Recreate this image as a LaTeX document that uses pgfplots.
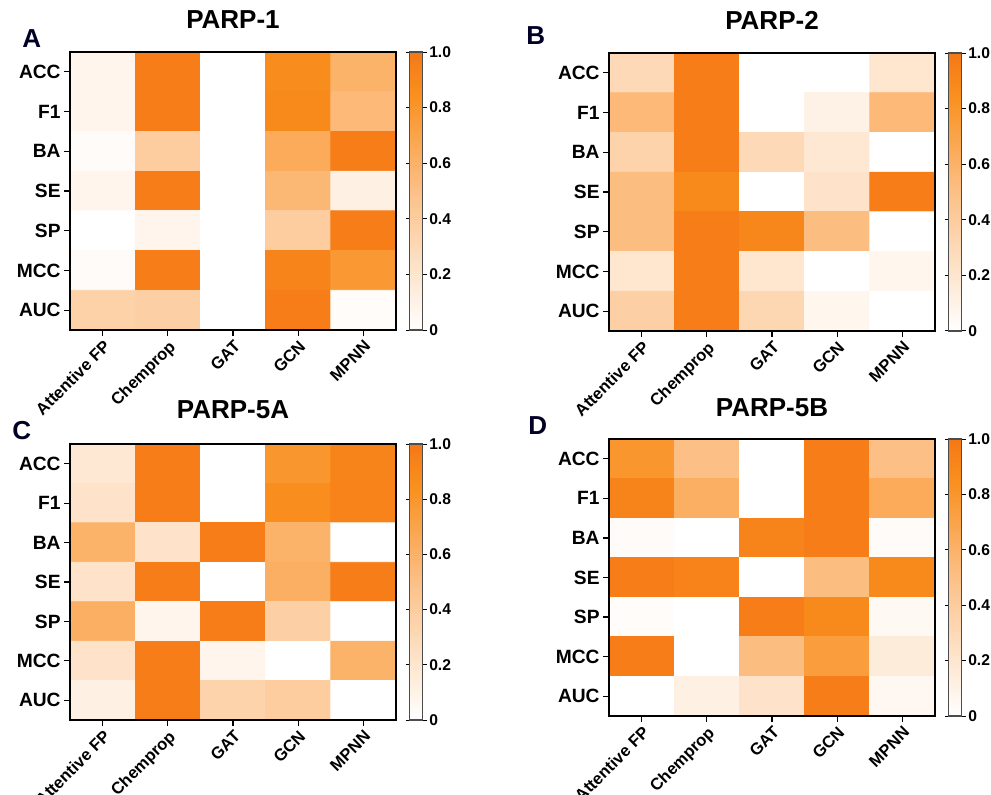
\documentclass[border=0pt]{standalone}
\usepackage{fontspec}
\setmainfont{Liberation Sans}
\usepackage{pgfplots}
\usepackage{pgfplotstable}
\pgfplotsset{compat=1.18}

% rows: ACC F1 BA SE SP MCC AUC (y=0..6), cols: Attentive FP .. MPNN (x=0..4)
\pgfplotstableread{
x y z
0 0 0.08
1 0 0.97
2 0 0
3 0 0.87
4 0 0.60
0 1 0.08
1 1 0.97
2 1 0
3 1 0.88
4 1 0.55
0 2 0.03
1 2 0.40
2 2 0
3 2 0.65
4 2 0.97
0 3 0.08
1 3 0.97
2 3 0
3 3 0.56
4 3 0.12
0 4 0
1 4 0.08
2 4 0
3 4 0.40
4 4 0.97
0 5 0.03
1 5 0.97
2 5 0
3 5 0.92
4 5 0.78
0 6 0.36
1 6 0.38
2 6 0
3 6 0.97
4 6 0.02
}\parpA

\pgfplotstableread{
x y z
0 0 0.30
1 0 0.97
2 0 0
3 0 0
4 0 0.20
0 1 0.55
1 1 0.97
2 1 0
3 1 0.10
4 1 0.55
0 2 0.35
1 2 0.97
2 2 0.30
3 2 0.18
4 2 0
0 3 0.52
1 3 0.88
2 3 0
3 3 0.22
4 3 0.97
0 4 0.52
1 4 0.97
2 4 0.90
3 4 0.52
4 4 0
0 5 0.20
1 5 0.97
2 5 0.20
3 5 0
4 5 0.07
0 6 0.38
1 6 0.97
2 6 0.32
3 6 0.07
4 6 0
}\parpB

\pgfplotstableread{
x y z
0 0 0.18
1 0 0.97
2 0 0
3 0 0.80
4 0 0.92
0 1 0.22
1 1 0.97
2 1 0
3 1 0.86
4 1 0.93
0 2 0.60
1 2 0.22
2 2 0.97
3 2 0.60
4 2 0
0 3 0.22
1 3 0.97
2 3 0
3 3 0.62
4 3 0.97
0 4 0.62
1 4 0.08
2 4 0.97
3 4 0.38
4 4 0
0 5 0.22
1 5 0.97
2 5 0.08
3 5 0
4 5 0.60
0 6 0.12
1 6 0.97
2 6 0.35
3 6 0.40
4 6 0
}\parpC

\pgfplotstableread{
x y z
0 0 0.80
1 0 0.50
2 0 0
3 0 0.97
4 0 0.50
0 1 0.92
1 1 0.62
2 1 0
3 1 0.97
4 1 0.65
0 2 0.03
1 2 0
2 2 0.92
3 2 0.97
4 2 0.03
0 3 0.97
1 3 0.93
2 3 0
3 3 0.52
4 3 0.88
0 4 0.02
1 4 0
2 4 0.97
3 4 0.88
4 4 0.05
0 5 0.97
1 5 0
2 5 0.52
3 5 0.75
4 5 0.15
0 6 0
1 6 0.12
2 6 0.22
3 6 0.97
4 6 0.06
}\parpD

\pgfplotsset{
  hm/.style={
    scale only axis, width=163pt, height=139pt,
    enlargelimits=false,
    xmin=-0.5, xmax=4.5, ymin=-0.5, ymax=6.5, y dir=reverse,
    xtick={0,...,4}, xticklabels={Attentive FP,Chemprop,GAT,GCN,MPNN},
    ytick={0,...,6}, yticklabels={ACC,F1,BA,SE,SP,MCC,AUC},
    tick align=outside, xtick pos=bottom, ytick pos=left,
    major tick length=3pt,
    tick style={black, line width=0.6pt},
    axis line style={line width=0.9pt},
    x tick label style={rotate=45, anchor=north east, inner sep=1pt,
      font=\bfseries\fontsize{8.3}{9}\selectfont},
    y tick label style={inner sep=1.5pt, font=\bfseries\fontsize{9.6}{10}\selectfont},
    title style={font=\bfseries\fontsize{13}{14}\selectfont},
    axis on top,
    colormap={parp}{rgb255(0)=(255,255,255) rgb255(0.5)=(252,192,135)
      rgb255(0.85)=(249,143,30) rgb255(1)=(245,120,22)},
    point meta min=0, point meta max=1,
    colorbar,
    colorbar shift/.style={xshift=6.5pt},
    colorbar style={
      width=6.5pt,
      ytick={0,0.2,0.4,0.6,0.8,1},
      yticklabels={0,0.2,0.4,0.6,0.8,1.0},
      tick align=outside, major tick length=2pt,
      tick style={black, line width=0.5pt},
      axis line style={line width=0.6pt, black!70},
      yticklabel style={inner sep=1pt, font=\bfseries\fontsize{7.8}{9}\selectfont},
    },
  },
  hmplot/.style={matrix plot*, mesh/cols=5, point meta=explicit, draw=none},
}

\begin{document}
\begin{tikzpicture}
\useasboundingbox (0pt,0pt) rectangle (495.5pt,397pt);

\begin{axis}[hm, at={(35pt,232pt)}, anchor=south west,
  title={PARP-1}, title style={yshift=2pt}]
\addplot[hmplot] table[x=x, y=y, meta=z] {\parpA};
\end{axis}

\begin{axis}[hm, at={(304.5pt,231.5pt)}, anchor=south west,
  title={PARP-2}, title style={yshift=2pt}]
\addplot[hmplot] table[x=x, y=y, meta=z] {\parpB};
\end{axis}

\begin{axis}[hm, at={(35pt,37pt)}, anchor=south west, height=138pt,
  title={PARP-5A}, title style={yshift=3pt}]
\addplot[hmplot] table[x=x, y=y, meta=z] {\parpC};
\end{axis}

\begin{axis}[hm, at={(304.5pt,39pt)}, anchor=south west, height=138.5pt,
  title={PARP-5B}, title style={yshift=1.5pt}]
\addplot[hmplot] table[x=x, y=y, meta=z] {\parpD};
\end{axis}

\begin{scope}[every node/.style={anchor=base west, inner sep=0pt,
    font=\bfseries\fontsize{13}{14}\selectfont, text=black!85!blue}]
  \node at (11pt,373pt) {A};
  \node at (263pt,374.5pt) {B};
  \node at (6pt,177.5pt) {C};
  \node at (264pt,180pt) {D};
\end{scope}
\end{tikzpicture}
\end{document}
